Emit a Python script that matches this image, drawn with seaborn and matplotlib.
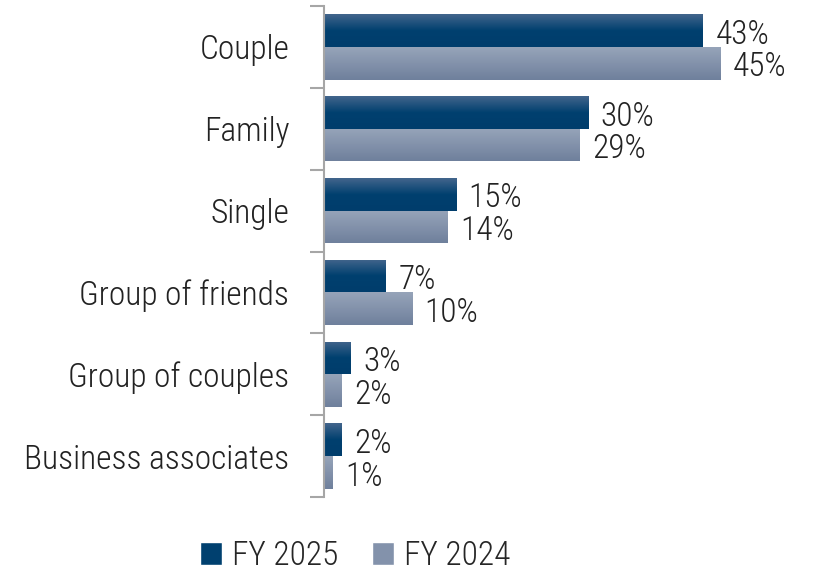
import numpy as np
import pandas as pd
import seaborn as sns
import matplotlib
matplotlib.use("Agg")
from matplotlib import pyplot as plt
from matplotlib.colors import LinearSegmentedColormap

categories = ["Couple", "Family", "Single", "Group of friends",
              "Group of couples", "Business associates"]
fy2025 = [43, 30, 15, 7, 3, 2]
fy2024 = [45, 29, 14, 10, 2, 1]
series = ["FY 2025", "FY 2024"]

DARK = "#0b4475"
LIGHT = "#8594ae"
# gradient stops (top -> bottom) for each series
GRADS = {
    "FY 2025": ["#42658c", "#00406f", "#003d6c"],
    "FY 2024": ["#96a4b9", "#8392ab", "#6f809c"],
}

sns.set_style("white")
plt.rcParams["font.family"] = ["Roboto Condensed", "DejaVu Sans"]
plt.rcParams["font.weight"] = 300

df = pd.DataFrame({
    "category": categories * 2,
    "value": fy2025 + fy2024,
    "series": [series[0]] * len(categories) + [series[1]] * len(categories),
})

fig = plt.figure(figsize=(8.18, 5.74), dpi=100)
ax = fig.add_axes([324 / 818, 1 - 497 / 574, 0.56, (497 - 6) / 574])

sns.barplot(data=df, x="value", y="category", hue="series", orient="h",
            palette=[DARK, LIGHT], width=0.8, ax=ax, legend=True)

XMAX = 52
ax.set_xlim(0, XMAX)
ax.set_ylim(len(categories) - 0.5, -0.5)

# gradient fill on each bar
for cont, name in zip(ax.containers, series):
    cmap = LinearSegmentedColormap.from_list(name, GRADS[name])
    grad = np.linspace(0, 1, 64).reshape(-1, 1)
    for bar in cont:
        x0, y0 = bar.get_x(), bar.get_y()
        w, h = bar.get_width(), bar.get_height()
        im = ax.imshow(grad, cmap=cmap, aspect="auto",
                       extent=(x0, x0 + w, y0 + h, y0), zorder=bar.get_zorder() + 0.1)
        im.set_clip_path(bar)
    texts = ax.bar_label(cont, labels=[f"{v:.0f}%" for v in cont.datavalues],
                         padding=9, fontsize=24, color="#222222")
    # nudge labels slightly below bar centre, as in the original
    for t in texts:
        t.xyann = (t.xyann[0], -3)

ax.set_xlim(0, XMAX)
ax.set_ylim(len(categories) - 0.5, -0.5)

for s in ["top", "right", "bottom"]:
    ax.spines[s].set_visible(False)
ax.spines["left"].set_color("#a6a6a6")
ax.spines["left"].set_linewidth(1.5)
ax.set_xticks([])
ax.set_yticks(np.arange(-0.5, len(categories)), minor=True)
ax.tick_params(axis="y", which="minor", length=10, width=1.5, color="#a6a6a6", left=True)
ax.tick_params(axis="y", which="major", length=0, pad=25, labelsize=24, labelcolor="#222222")
ax.set_xlabel("")
ax.set_ylabel("")

handles, labels = ax.get_legend_handles_labels()
for hd, name in zip(handles, series):
    hd.set_facecolor(GRADS[name][1])
ax.legend(handles, labels, loc="center", bbox_to_anchor=(355 / 818, 1 - 556 / 574),
          bbox_transform=fig.transFigure, ncol=2, frameon=False, fontsize=24,
          handlelength=0.66, handleheight=0.66, handletextpad=0.3, columnspacing=1.0)

fig.savefig("out.png", dpi=100)
